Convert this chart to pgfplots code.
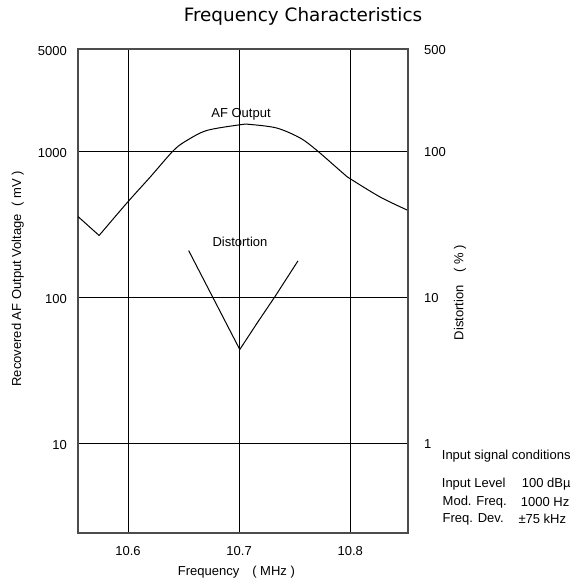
\documentclass[border=0pt]{standalone}
\usepackage{pgfplots}
\pgfplotsset{compat=1.18}
\usepackage{fontspec}
\setmainfont{Liberation Sans}
\newfontfamily\titlefont{DejaVu Sans}
\begin{document}
\begin{tikzpicture}[x=1bp,y=1bp]
\useasboundingbox (-78bp,-50bp) rectangle (506bp,533bp);
\begin{axis}[
  at={(0,0)}, anchor=south west,
  scale only axis, width=330bp, height=484bp,
  xmin=10.555, xmax=10.852,
  ymode=log, ymin=2.42, ymax=5000,
  xtick={10.6,10.7,10.8}, xticklabels={10.6,10.7,10.8},
  ytick={10,100,1000,5000}, yticklabels={10,100,1000,5000},
  grid=major, major grid style={black, line width=0.9bp},
  tick style={draw=none}, minor tick num=0,
  axis line style={line width=1.4bp, black!70},
  ticklabel style={font=\fontsize{13bp}{15bp}\selectfont, inner sep=0pt},
  xticklabel style={anchor=base, yshift=-22bp},
  yticklabel style={anchor=east, xshift=-11bp, yshift=-2bp},
  xlabel={Frequency\quad( MHz )},
  ylabel={Recovered AF Output Voltage\ \ ( mV )},
  label style={font=\fontsize{13bp}{15bp}\selectfont},
  xlabel style={at={(axis description cs:0.480,-0.0806)}, anchor=center},
  ylabel style={at={(axis description cs:-0.1827,0.525)}, anchor=center},
]
\addplot[black, line width=1bp] coordinates {(10.555,356) (10.574,264)};
\addplot[black, line width=1bp, smooth] coordinates {
(10.574,264) (10.599,441) (10.620,664) (10.641,1010) (10.653,1182)
(10.671,1384) (10.701,1514) (10.710,1521) (10.734,1437) (10.755,1228)
(10.770,1010) (10.794,700) (10.800,646) (10.827,484) (10.852,392)};
\end{axis}
\begin{axis}[
  at={(0,0)}, anchor=south west,
  scale only axis, width=330bp, height=484bp,
  xmin=10.555, xmax=10.852,
  ymode=log, ymin=0.242, ymax=500,
  axis x line=none, axis y line*=right,
  ytick={1,10,100,500}, yticklabels={1,10,100,500},
  tick style={draw=none}, minor tick num=0,
  axis line style={line width=1.4bp, black!70},
  ticklabel style={font=\fontsize{13bp}{15bp}\selectfont, inner sep=0pt},
  yticklabel style={anchor=west, xshift=16bp, yshift=-1bp},
  ylabel={Distortion\quad( \% )},
  label style={font=\fontsize{13bp}{15bp}\selectfont},
  ylabel style={at={(axis description cs:1.1576,0.497)}, anchor=center},
]
\addplot[black, line width=1bp] coordinates {
(10.6546,20.8) (10.7006,4.37) (10.716,6.6) (10.732,10) (10.753,17.7)};
\end{axis}
\node[font=\titlefont\fontsize{18.4bp}{22bp}\selectfont, anchor=base, inner sep=0pt] at (225,511.3) {Frequency Characteristics};
\node[font=\fontsize{13bp}{15bp}\selectfont] at (163,419) {AF Output};
\node[font=\fontsize{13bp}{15bp}\selectfont] at (162,291.3) {Distortion};
\begin{scope}[every node/.style={font=\fontsize{13bp}{15bp}\selectfont, anchor=west, inner sep=0pt}]
\node at (363.7,77) {Input signal conditions};
\node at (363.7,48.7) {Input Level};
\node at (443.7,48.7) {100 dB\textmu};
\node at (364.5,31.3) {Mod. Freq.};
\node at (442.7,31.3) {1000 Hz};
\node at (364.5,14) {Freq. Dev.};
\node at (440.3,14) {\textpm75 kHz};
\end{scope}
\end{tikzpicture}
\end{document}
